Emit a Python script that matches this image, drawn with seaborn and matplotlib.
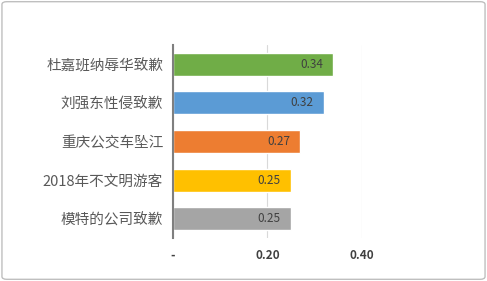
import matplotlib
matplotlib.use("Agg")
import matplotlib.pyplot as plt
import seaborn as sns
import pandas as pd
from matplotlib.patches import FancyBboxPatch

categories = ["杜嘉班纳辱华致歉", "刘强东性侵致歉", "重庆公交车坠江", "2018年不文明游客", "模特的公司致歉"]
values = [0.34, 0.32, 0.27, 0.25, 0.25]
colors = ["#70AD47", "#5B9BD5", "#ED7D31", "#FFC000", "#A5A5A5"]
xticks = [0, 0.2, 0.4]
xtick_labels = ["-", "0.20", "0.40"]

sns.set_theme(style="white")
plt.rcParams['font.family'] = ['Noto Sans CJK SC', 'DejaVu Sans']

df = pd.DataFrame({"cat": categories, "val": values})

fig = plt.figure(figsize=(4.87, 2.81), dpi=100)
ax = fig.add_axes([0.355, 0.153, 0.388, 0.687])

sns.barplot(data=df, y="cat", x="val", hue="cat", palette=colors, orient="h",
            width=0.6, saturation=1, legend=False, ax=ax, zorder=3)

ax.set_xlim(0, 0.4)
ax.set_xticks(xticks)
ax.set_xticklabels(xtick_labels, fontsize=8.5, fontweight="bold", color="#404040")
ax.tick_params(axis="x", length=0, pad=8)
ax.tick_params(axis="y", length=0, pad=7, labelsize=10.5, labelcolor="#595959")
ax.set_xlabel("")
ax.set_ylabel("")
for s in ["top", "right", "bottom"]:
    ax.spines[s].set_visible(False)
ax.spines["left"].set_color("#7F7F7F")
ax.spines["left"].set_linewidth(1.5)
ax.spines["left"].set_zorder(5)
ax.grid(axis="x", color="#D9D9D9", linewidth=0.8, zorder=0)
ax.set_axisbelow(True)

for cont in ax.containers:
    ax.bar_label(cont, fmt="%.2f", padding=-24, fontsize=8.5, fontweight="medium", color="#404040")

border = FancyBboxPatch((0.004, 0.006), 0.992, 0.988, boxstyle="round,pad=0,rounding_size=0.01",
                        transform=fig.transFigure, fill=False, edgecolor="#BFBFBF", linewidth=1)
fig.patches.append(border)

fig.savefig("out.png", dpi=100)
